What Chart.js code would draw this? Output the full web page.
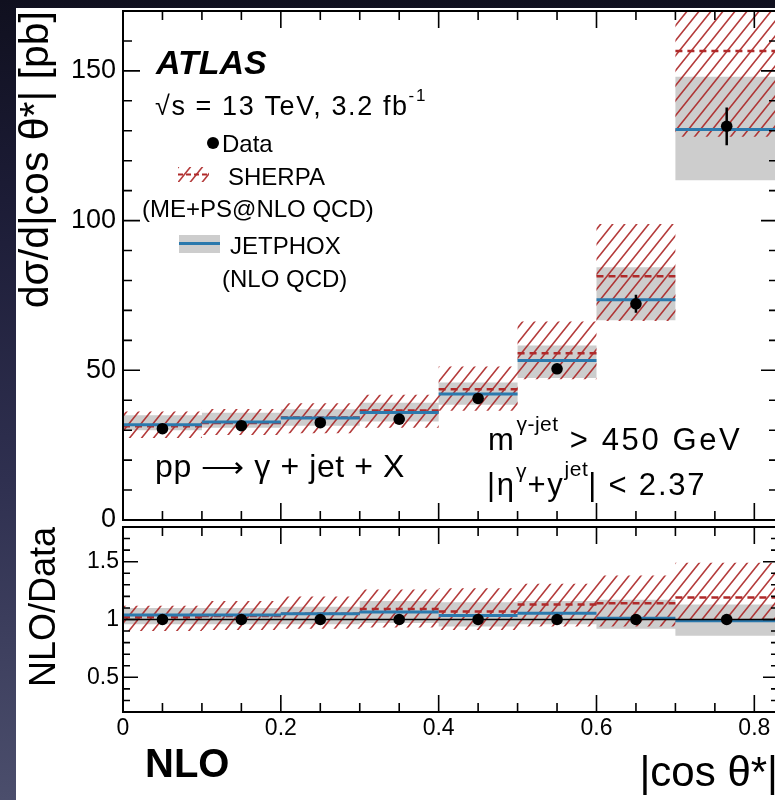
<!DOCTYPE html>
<html><head><meta charset="utf-8">
<script src="https://cdn.jsdelivr.net/npm/chart.js@4.4.1/dist/chart.umd.min.js"></script>
<style>
html,body{margin:0;padding:0;width:775px;height:800px;overflow:hidden;}
body{position:relative;background:linear-gradient(to bottom,#10101f 0%,#1c1c36 25%,#2f3050 60%,#4b4e6c 100%);}
#paper{position:absolute;left:16px;top:8px;width:800px;height:800px;background:#fff;}
canvas{position:absolute;left:0;}
#topc{top:0;}
#botc{top:522px;}
</style></head><body>
<div id="paper"></div>
<canvas id="topc" width="790" height="530" style="width:790px;height:530px"></canvas>
<canvas id="botc" width="790" height="278" style="width:790px;height:278px"></canvas>
<script>
// ---------------- data ----------------
const binEdges   = [0, 0.1, 0.2, 0.3, 0.4, 0.5, 0.6, 0.7, 0.83];
const binCenters = [0.05, 0.15, 0.25, 0.35, 0.45, 0.55, 0.65, 0.765];

const dataXsec    = [30.5, 31.5, 32.5, 33.7, 40.6, 50.5, 72.2, 131.5];
const dataErr     = [0.6, 0.6, 0.7, 0.8, 1.0, 1.4, 3.0, 6.3];
const jetphoxXsec = [31.8, 32.7, 34.1, 35.9, 42.1, 53.3, 73.6, 130.4];
const jetphoxLow  = [30.0, 30.8, 31.5, 32.9, 38.5, 47.4, 66.7, 113.5];
const jetphoxHigh = [35.0, 35.8, 37.0, 39.2, 45.9, 58.3, 84.4, 148.0];
const sherpaXsec  = [31.3, 32.4, 34.2, 36.6, 43.7, 55.7, 81.4, 156.6];
const sherpaLow   = [27.4, 28.4, 29.0, 30.8, 36.5, 47.0, 66.5, 128.0];
const sherpaHigh  = [36.2, 37.1, 39.0, 41.8, 51.3, 66.3, 98.9, 196.0];

const ratioData        = [1, 1, 1, 1, 1, 1, 1, 1];
const ratioJetphox     = [1.04, 1.04, 1.05, 1.065, 1.035, 1.055, 1.01, 0.99];
const ratioJetphoxLow  = [0.96, 0.96, 0.96, 0.97, 0.94, 0.96, 0.92, 0.86];
const ratioJetphoxHigh = [1.10, 1.10, 1.11, 1.16, 1.15, 1.16, 1.17, 1.13];
const ratioSherpa      = [1.02, 1.03, 1.05, 1.09, 1.07, 1.13, 1.14, 1.19];
const ratioSherpaLow   = [0.90, 0.91, 0.92, 0.93, 0.91, 0.94, 0.94, 0.98];
const ratioSherpaHigh  = [1.12, 1.16, 1.20, 1.26, 1.27, 1.31, 1.38, 1.49];
const ratioReference   = [1];

const xRange       = [0, 0.83];
const yRangeTop    = [0, 170];
const yRangeRatio  = [0.2, 1.8];
const xTickValues  = [0, 0.2, 0.4, 0.6, 0.8];
const xTickLabels  = ['0', '0.2', '0.4', '0.6', '0.8'];
const yTickValuesTop = [0, 50, 100, 150];
const yTickLabelsTop = ['0', '50', '100', '150'];
const yTickValuesRatio = [0.5, 1, 1.5];
const yTickLabelsRatio = ['0.5', '1', '1.5'];

// ---------------- style ----------------
const FONT = "'Liberation Sans', Arial, Helvetica, sans-serif";
Chart.defaults.font.family = FONT;
Chart.defaults.color = '#000';
const BLUE = '#2b79ad';
const RED = '#b02a2a';
const GRAY = '#cdcdcd';

function hatchPattern(color, w, h, lw) {
  const c = document.createElement('canvas');
  c.width = w; c.height = h;
  const g = c.getContext('2d');
  g.strokeStyle = color; g.lineWidth = lw; g.lineCap = 'butt';
  g.beginPath();
  for (const o of [-w, 0, w]) { g.moveTo(o - w, 2 * h); g.lineTo(o + 2 * w, -h); }
  g.stroke();
  return g.createPattern(c, 'repeat');
}
const HATCH = hatchPattern('rgba(172,38,38,0.9)', 12, 15, 1.6);

// step outline through the bin edges: edge i carries bin i (last edge repeats the last bin);
// Chart.js 'before' stepping keeps the value of edge i up to edge i+1
const stepPts = vals => binEdges.map((e, i) => ({x: e, y: vals[Math.min(i, vals.length - 1)]}));
const segPts = vals => vals.flatMap((v, i) => [{x: binEdges[i], y: v}, {x: binEdges[i + 1], y: v}, {x: binEdges[i + 1], y: null}]);

function buildDatasets(dVals, jC, jL, jH, sC, sL, sH, extra) {
  const band = {stepped: 'before', borderWidth: 0, borderColor: 'rgba(0,0,0,0)', pointRadius: 0, pointHoverRadius: 0};
  const ds = [
    {label: 'Data', type: 'scatter', data: binCenters.map((x, i) => ({x, y: dVals[i]})),
     pointRadius: 5.8, pointHoverRadius: 5.8, backgroundColor: '#000', borderColor: '#000', borderWidth: 0, order: 0},
    {label: 'JETPHOX', data: segPts(jC), borderColor: BLUE, borderWidth: 3, pointRadius: 0, spanGaps: false, fill: false, order: 1},
    {label: 'SHERPA', data: segPts(sC), borderColor: RED, borderWidth: 2.5, borderDash: [7, 5], pointRadius: 0, spanGaps: false, fill: false, order: 2},
    Object.assign({label: 'SHERPA up', data: stepPts(sH), fill: false, order: 4}, band),
    Object.assign({label: 'SHERPA down', data: stepPts(sL), fill: '-1', backgroundColor: HATCH, order: 5}, band),
    Object.assign({label: 'JETPHOX up', data: stepPts(jH), fill: false, order: 6}, band),
    Object.assign({label: 'JETPHOX down', data: stepPts(jL), fill: '-1', backgroundColor: GRAY, order: 7}, band),
  ];
  if (extra) ds.push(extra);
  return ds;
}

// frame + inward ticks, ROOT style
function frameTicksPlugin(cfg) {
  return {
    id: 'frameTicks',
    afterDraw(chart) {
      const {ctx, chartArea: a, scales: {x, y}} = chart;
      ctx.save();
      ctx.strokeStyle = '#000';
      ctx.lineWidth = 1.6;
      ctx.beginPath();
      for (let k = 0; k * 0.05 <= xRange[1] + 1e-9; k++) {
        const px = x.getPixelForValue(k * 0.05);
        const L = (k % 4 === 0) ? cfg.xMajor : cfg.xMinor;
        ctx.moveTo(px, a.bottom); ctx.lineTo(px, a.bottom - L);
        ctx.moveTo(px, a.top); ctx.lineTo(px, a.top + L);
      }
      for (let k = cfg.yK0; k <= cfg.yK1; k++) {
        const py = y.getPixelForValue(k * cfg.yStep);
        const L = (k % cfg.yMajEvery === 0) ? cfg.yMajor : cfg.yMinor;
        ctx.moveTo(a.left, py); ctx.lineTo(a.left + L, py);
        ctx.moveTo(a.right, py); ctx.lineTo(a.right - L, py);
      }
      ctx.stroke();
      ctx.lineWidth = 2;
      ctx.strokeRect(a.left, a.top, a.right - a.left, a.bottom - a.top);
      ctx.restore();
    }
  };
}

const errorBarPlugin = {
  id: 'errorBars',
  afterDatasetsDraw(chart) {
    const {ctx, scales: {x, y}} = chart;
    ctx.save();
    ctx.strokeStyle = '#000'; ctx.lineWidth = 2.5;
    ctx.beginPath();
    binCenters.forEach((c, i) => {
      const px = x.getPixelForValue(c);
      ctx.moveTo(px, y.getPixelForValue(dataXsec[i] - dataErr[i]));
      ctx.lineTo(px, y.getPixelForValue(dataXsec[i] + dataErr[i]));
    });
    ctx.stroke();
    ctx.restore();
  }
};

function rich(ctx, parts, x, y, spacing) {
  let cx = x;
  for (const p of parts) {
    ctx.font = `${p.st || 'normal'} ${p.w || 'normal'} ${p.s}px ${FONT}`;
    ctx.letterSpacing = (p.ls !== undefined ? p.ls : (spacing || 0)) + 'px';
    ctx.fillText(p.t, cx, y + (p.dy || 0));
    cx += ctx.measureText(p.t).width;
  }
  ctx.letterSpacing = '0px';
}

const textTopPlugin = {
  id: 'textTop',
  afterDraw(chart) {
    const ctx = chart.ctx;
    ctx.save();
    ctx.fillStyle = '#000';
    ctx.textBaseline = 'alphabetic';
    ctx.textAlign = 'left';
    rich(ctx, [{t: 'ATLAS', s: 34, w: 'bold', st: 'italic'}], 156, 74);
    rich(ctx, [{t: '\u221As = 13 TeV, 3.2 fb', s: 27}, {t: '-1', s: 17, dy: -14}], 155, 115, 1.6);
    // legend
    ctx.beginPath(); ctx.arc(213, 143, 6, 0, Math.PI * 2); ctx.fill();
    rich(ctx, [{t: 'Data', s: 24}], 222, 152);
    ctx.fillStyle = HATCH; ctx.fillRect(178, 167, 31, 15);
    ctx.strokeStyle = RED; ctx.lineWidth = 2; ctx.setLineDash([5, 3]);
    ctx.beginPath(); ctx.moveTo(178, 174.5); ctx.lineTo(209, 174.5); ctx.stroke(); ctx.setLineDash([]);
    ctx.fillStyle = '#000';
    rich(ctx, [{t: 'SHERPA', s: 24}], 228, 185);
    rich(ctx, [{t: '(ME+PS@NLO QCD)', s: 24}], 142, 217);
    ctx.fillStyle = GRAY; ctx.fillRect(179, 235, 41, 18);
    ctx.strokeStyle = BLUE; ctx.lineWidth = 3;
    ctx.beginPath(); ctx.moveTo(179, 243.5); ctx.lineTo(220, 243.5); ctx.stroke();
    ctx.fillStyle = '#000';
    rich(ctx, [{t: 'JETPHOX', s: 24}], 230, 254);
    rich(ctx, [{t: '(NLO QCD)', s: 24}], 222, 287);
    // annotations
    rich(ctx, [{t: 'pp ', s: 32}, {t: '\u27F6', s: 30}, {t: ' \u03B3 + jet + X', s: 32}], 155, 477, 0.6);
    rich(ctx, [{t: 'm', s: 31}, {t: '\u03B3-jet', s: 21, dy: -19, ls: 0.5}, {t: ' > 450 GeV', s: 31}], 488, 450, 2.6);
    rich(ctx, [{t: '|\u03B7', s: 31}, {t: '\u03B3', s: 21, dy: -17, ls: 1}, {t: '+y', s: 31}, {t: 'jet', s: 21, dy: -19, ls: 0.5}, {t: '| < 2.37', s: 31}], 487, 495, 1.8);
    ctx.restore();
  }
};

const textBotPlugin = {
  id: 'textBot',
  afterDraw(chart) {
    const ctx = chart.ctx;
    ctx.save();
    ctx.fillStyle = '#000';
    ctx.textBaseline = 'alphabetic';
    rich(ctx, [{t: 'NLO', s: 40, w: 'bold'}], 145, 777 - 522);
    ctx.restore();
  }
};

const setTicks = (vals) => (scale) => { scale.ticks = vals.map(v => ({value: v})); };

// ---------------- top chart ----------------
new Chart(document.getElementById('topc'), {
  type: 'line',
  data: {datasets: buildDatasets(dataXsec, jetphoxXsec, jetphoxLow, jetphoxHigh, sherpaXsec, sherpaLow, sherpaHigh)},
  options: {
    responsive: false, animation: false, devicePixelRatio: 1,
    layout: {autoPadding: false, padding: {left: 0, top: 11, right: 12, bottom: 10}},
    plugins: {legend: {display: false}, tooltip: {enabled: false}},
    scales: {
      x: {type: 'linear', min: xRange[0], max: xRange[1], display: false},
      y: {
        type: 'linear', min: yRangeTop[0], max: yRangeTop[1],
        afterBuildTicks: setTicks(yTickValuesTop),
        afterFit(s) { s.width = 123; s.paddingTop = 0; s.paddingBottom = 0; },
        grid: {display: false, drawTicks: false}, border: {display: false},
        ticks: {padding: 7, font: {size: 27, lineHeight: 1}, color: '#000',
                callback: (v, i) => yTickLabelsTop[i]},
        title: {display: true, text: 'd\u03C3/d|cos \u03B8*| [pb]', align: 'end',
                font: {size: 41, lineHeight: 1}, padding: {top: 16, bottom: 0}, color: '#000'}
      }
    }
  },
  plugins: [frameTicksPlugin({xMajor: 17, xMinor: 9, yK0: 0, yK1: 17, yStep: 10, yMajEvery: 5, yMajor: 17, yMinor: 9}), errorBarPlugin, textTopPlugin]
});

// ---------------- ratio chart ----------------
new Chart(document.getElementById('botc'), {
  type: 'line',
  data: {datasets: buildDatasets(ratioData, ratioJetphox, ratioJetphoxLow, ratioJetphoxHigh, ratioSherpa, ratioSherpaLow, ratioSherpaHigh,
    {label: 'ref', data: [{x: xRange[0], y: ratioReference[0]}, {x: xRange[1], y: ratioReference[0]}], borderColor: '#000', borderWidth: 1.5, pointRadius: 0, fill: false, order: 0.5})},
  options: {
    responsive: false, animation: false, devicePixelRatio: 1,
    layout: {autoPadding: false, padding: {left: 0, top: 5, right: 12, bottom: 0}},
    plugins: {legend: {display: false}, tooltip: {enabled: false}},
    scales: {
      x: {
        type: 'linear', min: xRange[0], max: xRange[1],
        afterBuildTicks: setTicks(xTickValues),
        afterFit(s) { s.height = 88; s.paddingLeft = 0; s.paddingRight = 0; },
        grid: {display: false, drawTicks: false}, border: {display: false},
        ticks: {padding: 5, maxRotation: 0, autoSkip: false, font: {size: 23, lineHeight: 1}, color: '#000',
                callback: (v, i) => xTickLabels[i]},
        title: {display: true, text: '|cos \u03B8*|', align: 'end', font: {size: 42, lineHeight: 1},
                padding: {top: 0, bottom: 5}, color: '#000'}
      },
      y: {
        type: 'linear', min: yRangeRatio[0], max: yRangeRatio[1],
        afterBuildTicks: setTicks(yTickValuesRatio),
        afterFit(s) { s.width = 123; s.paddingTop = 0; s.paddingBottom = 0; },
        grid: {display: false, drawTicks: false}, border: {display: false},
        ticks: {padding: 4, font: {size: 23, lineHeight: 1}, color: '#000',
                callback: (v, i) => yTickLabelsRatio[i]},
        title: {display: true, text: 'NLO/Data', align: 'end', font: {size: 36, lineHeight: 1},
                padding: {top: 27, bottom: 0}, color: '#000'}
      }
    }
  },
  plugins: [frameTicksPlugin({xMajor: 17, xMinor: 9, yK0: 3, yK1: 17, yStep: 0.1, yMajEvery: 5, yMajor: 15, yMinor: 7}), textBotPlugin]
});
</script>
</body></html>
